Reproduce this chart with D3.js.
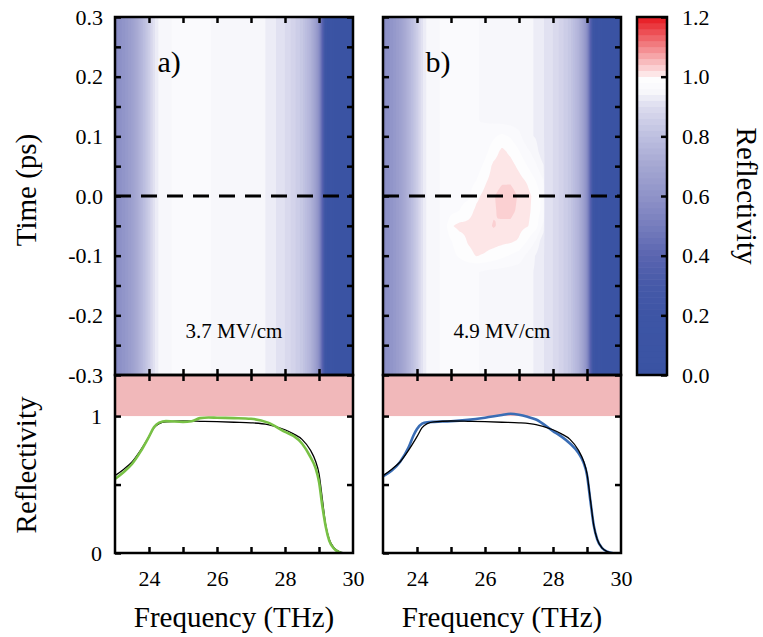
<!DOCTYPE html>
<meta charset="utf-8">
<head>
    <title>Reflectivity maps</title>
    <script src="https://cdn.jsdelivr.net/npm/d3@7"></script>
</head>

<style>
    body { margin: 0; background: #fff; }
    .tick line { stroke: #000; stroke-width: 2.5px; }
    .domain { display: none; }
    .frame { fill: none; stroke: #000; stroke-width: 2.5px; }
</style>

<svg width="763" height="637"></svg>

<script>
    // reference spectrum (black line, also the unpumped map)
    var refFreq = [23.0, 23.25, 23.5, 23.75, 24.0, 24.15, 24.3, 24.5, 25.0, 25.5, 26.0, 26.5, 27.0, 27.5,
        28.0, 28.25, 28.5, 28.75, 28.9, 29.0, 29.1, 29.2, 29.3, 29.45, 29.6, 29.75];
    var refR = [0.565, 0.61, 0.665, 0.75, 0.85, 0.915, 0.945, 0.958, 0.964, 0.962, 0.959, 0.955, 0.951, 0.938,
        0.90, 0.87, 0.83, 0.75, 0.67, 0.58, 0.39, 0.20, 0.10, 0.035, 0.01, 0.0];

    // 3.7 MV/cm spectrum (green)
    var greenFreq = [23.0, 23.25, 23.5, 23.75, 24.0, 24.15, 24.3, 24.5, 25.0, 25.25, 25.5, 25.75, 26.0, 26.5,
        27.0, 27.5, 28.0, 28.25, 28.5, 28.75, 28.9, 29.0, 29.1, 29.2, 29.3, 29.45, 29.65];
    var greenR = [0.54, 0.59, 0.65, 0.74, 0.85, 0.92, 0.952, 0.963, 0.958, 0.962, 0.985, 0.99, 0.988, 0.985,
        0.98, 0.952, 0.885, 0.855, 0.80, 0.70, 0.62, 0.52, 0.34, 0.19, 0.09, 0.03, 0.0];

    // 4.9 MV/cm spectrum (blue)
    var blueFreq = [23.0, 23.25, 23.5, 23.75, 23.9, 24.0, 24.15, 24.3, 24.5, 25.0, 25.5, 26.0, 26.5, 26.75,
        27.0, 27.25, 27.5, 28.0, 28.25, 28.5, 28.75, 28.9, 29.0, 29.1, 29.2, 29.3, 29.45, 29.6, 29.75];
    var blueR = [0.56, 0.60, 0.665, 0.77, 0.86, 0.905, 0.945, 0.955, 0.958, 0.962, 0.972, 0.988, 1.008, 1.017,
        1.01, 0.995, 0.975, 0.89, 0.85, 0.80, 0.73, 0.66, 0.57, 0.38, 0.20, 0.10, 0.035, 0.01, 0.0];

    // change of reflectivity in map b) around time zero
    var mapTimes = [-0.15, -0.125, -0.1, -0.075, -0.05, -0.025, 0, 0.025, 0.05, 0.075, 0.1, 0.125];
    var mapFreqs = [24.75, 25.0, 25.25, 25.5, 25.75, 26.0, 26.25, 26.5, 26.75, 27.0, 27.25, 27.5, 27.75];
    var mapDeltaB = [
        [0, 0, 0, 0, 0, 0, 0, 0, 0, 0, 0, 0, 0],
        [0, 0, 0, 0, 0, 0, 0, 0, 0, 0, 0, 0, 0],
        [0, .010, .020, .032, .041, .039, .035, .030, .025, .020, .010, 0, 0],
        [0, .015, .027, .040, .046, .049, .051, .051, .051, .047, .035, .020, 0],
        [0, .034, .043, .043, .046, .053, .065, .060, .062, .055, .057, .050, .030],
        [0, .010, .017, .030, .044, .049, .060, .071, .073, .064, .061, .052, .051],
        [0, .005, .010, .013, .035, .047, .061, .074, .077, .066, .062, .054, .051],
        [0, 0, .005, .010, .020, .038, .052, .062, .064, .057, .053, .042, .040],
        [0, 0, 0, .005, .010, .026, .048, .055, .055, .044, .035, .025, .020],
        [0, 0, 0, 0, .005, .015, .033, .050, .042, .030, .020, .010, 0],
        [0, 0, 0, 0, 0, .010, .020, .030, .025, .015, 0, 0, 0],
        [0, 0, 0, 0, 0, 0, 0, 0, 0, 0, 0, 0, 0]
    ];

    var timeTicks = [-0.3, -0.2, -0.1, 0.0, 0.1, 0.2, 0.3];
    var timeMinor = [-0.25, -0.15, -0.05, 0.05, 0.15, 0.25];
    var freqTicks = [24, 25, 26, 27, 28, 29];
    var freqLabels = [24, 26, 28, 30];
    var cbTicks = [0.0, 0.2, 0.4, 0.6, 0.8, 1.0, 1.2];

    // colour map
    var blueStops = [0, 0.2, 0.3, 0.4, 0.5, 0.6, 0.7, 0.8, 0.9, 0.95, 1.0];
    var blueCols = ["#3a53a3", "#3d55a5", "#4659a8", "#5a65b0", "#767dbd", "#8f93c8", "#a4a7d2",
        "#bdbfe0", "#dcdcee", "#f7f7fb", "#ffffff"];
    var cmapBlue = d3.scaleLinear().domain(blueStops).range(blueCols);
    var cmapRed = d3.scaleLinear().domain([1.02, 1.2]).range(["#fde6e7", "#e8232a"]).clamp(true);
    function bandColor(v) { return v < 0.999 ? cmapBlue(v + 0.01) : cmapRed(v + 0.02); }
    var levels = d3.range(0, 60).map(function (k) { return +(k * 0.02).toFixed(2); });

    var FONT = 'Liberation Serif';
    var svg = d3.select('svg').attr('font-family', FONT);
    var W = 238, yTop = 17, yMid = 375, yBot = 553;
    var yTime = d3.scaleLinear().domain([-0.3, 0.3]).range([yMid, yTop]);
    var yR = d3.scaleLinear().domain([0, 1.3]).range([yBot, yMid]);
    var nx = 238, ny = 179;

    function interp1(xs, ys, x) {
        if (x <= xs[0]) return ys[0];
        if (x >= xs[xs.length - 1]) return ys[ys.length - 1];
        var i = d3.bisectRight(xs, x) - 1;
        var u = (x - xs[i]) / (xs[i + 1] - xs[i]);
        return ys[i] + u * (ys[i + 1] - ys[i]);
    }
    function interp2(t, f) {
        if (t <= mapTimes[0] || t >= mapTimes[mapTimes.length - 1]) return 0;
        if (f <= mapFreqs[0] || f >= mapFreqs[mapFreqs.length - 1]) return 0;
        var i = d3.bisectRight(mapTimes, t) - 1, j = d3.bisectRight(mapFreqs, f) - 1;
        var u = (t - mapTimes[i]) / (mapTimes[i + 1] - mapTimes[i]);
        var v = (f - mapFreqs[j]) / (mapFreqs[j + 1] - mapFreqs[j]);
        var M = mapDeltaB;
        return (1 - u) * (1 - v) * M[i][j] + (1 - u) * v * M[i][j + 1] + u * (1 - v) * M[i + 1][j] + u * v * M[i + 1][j + 1];
    }
    function heatGrid(withDelta) {
        var vals = new Array(nx * ny);
        for (var r = 0; r < ny; r++) {
            var t = 0.3 - (r + 0.5) * 0.6 / ny;
            for (var c = 0; c < nx; c++) {
                var f = 23 + (c + 0.5) * 7 / nx;
                vals[r * nx + c] = interp1(refFreq, refR, f) + (withDelta ? interp2(t, f) : 0);
            }
        }
        return vals;
    }

    // axis group with inward ticks and serif labels
    function axisG(tr, axis) {
        return svg.append('g').attr('transform', tr).call(axis)
            .attr('font-family', FONT).attr('font-size', 22);
    }

    function panel(x0, id, withDelta, showY, letter, field, curves) {
        var x = d3.scaleLinear().domain([23, 30]).range([x0, x0 + W]);
        var g = svg.append('g');

        g.append('clipPath').attr('id', 'top' + id).append('rect')
            .attr('x', x0).attr('y', yTop).attr('width', W).attr('height', yMid - yTop);
        g.append('clipPath').attr('id', 'bot' + id).append('rect')
            .attr('x', x0).attr('y', yMid).attr('width', W).attr('height', yBot - yMid);

        // time-frequency map as filled contours
        var proj = d3.geoTransform({
            point: function (gx, gy) { this.stream.point(x(23 + gx * 7 / nx), yTime(0.3 - gy * 0.6 / ny)); }
        });
        var contours = d3.contours().size([nx, ny]).thresholds(levels)(heatGrid(withDelta));
        var gm = g.append('g').attr('clip-path', 'url(#top' + id + ')');
        gm.append('rect').attr('x', x0).attr('y', yTop).attr('width', W).attr('height', yMid - yTop)
            .attr('fill', bandColor(0));
        gm.selectAll('path').data(contours).enter().append('path')
            .attr('d', d3.geoPath(proj))
            .attr('fill', function (d) { return bandColor(d.value); });

        g.append('line').attr('x1', x0).attr('x2', x0 + W).attr('y1', yTime(0)).attr('y2', yTime(0))
            .attr('stroke', '#000').attr('stroke-width', 3.2).attr('stroke-dasharray', '16,10');

        // spectra
        var gb = g.append('g').attr('clip-path', 'url(#bot' + id + ')');
        gb.append('rect').attr('x', x0).attr('width', W).attr('y', yR(1.3)).attr('height', yR(1) - yR(1.3))
            .attr('fill', '#f1b8ba');
        var line = d3.line().x(function (d) { return x(d[0]); }).y(function (d) { return yR(d[1]); })
            .curve(d3.curveMonotoneX);
        curves.forEach(function (c) {
            gb.append('path').attr('d', line(d3.zip(c.f, c.r))).attr('fill', 'none')
                .attr('stroke', c.color).attr('stroke-width', c.width);
        });

        // ticks
        var fmt1 = function (d) { return d.toFixed(1); };
        axisG('translate(' + x0 + ',0)', d3.axisLeft(yTime).tickValues(timeTicks).tickSize(-6).tickSizeOuter(0)
            .tickPadding(12).tickFormat(showY ? fmt1 : ''));
        axisG('translate(' + x0 + ',0)', d3.axisLeft(yTime).tickValues(timeMinor).tickSize(-6).tickSizeOuter(0).tickFormat(''));
        axisG('translate(' + (x0 + W) + ',0)', d3.axisRight(yTime).tickValues(timeTicks.concat(timeMinor))
            .tickSize(-6).tickSizeOuter(0).tickFormat(''));
        axisG('translate(0,' + yTop + ')', d3.axisTop(x).tickValues(freqTicks).tickSize(-6).tickSizeOuter(0).tickFormat(''));
        axisG('translate(0,' + yMid + ')', d3.axisBottom(x).tickValues(freqTicks).tickSize(-6).tickSizeOuter(0).tickFormat(''));
        axisG('translate(0,' + yMid + ')', d3.axisTop(x).tickValues(freqTicks).tickSize(-6).tickSizeOuter(0).tickFormat(''));
        axisG('translate(0,' + yBot + ')', d3.axisBottom(x).tickValues(freqTicks).tickSize(-6).tickSizeOuter(0).tickFormat(''));
        axisG('translate(0,' + yBot + ')', d3.axisBottom(x).tickValues(freqLabels).tickSize(0).tickSizeOuter(0)
            .tickPadding(17).tickFormat(function (d) { return String(d); }));
        axisG('translate(' + x0 + ',0)', d3.axisLeft(yR).tickValues([0, 0.5, 1]).tickSize(-6).tickSizeOuter(0)
            .tickPadding(13).tickFormat(function (d) { return showY && d !== 0.5 ? String(d) : ''; }));
        axisG('translate(' + (x0 + W) + ',0)', d3.axisRight(yR).tickValues([0.5, 1]).tickSize(-6).tickSizeOuter(0).tickFormat(''));

        // frames
        svg.append('rect').attr('class', 'frame').attr('x', x0).attr('y', yTop).attr('width', W).attr('height', yMid - yTop);
        svg.append('rect').attr('class', 'frame').attr('x', x0).attr('y', yMid).attr('width', W).attr('height', yBot - yMid);

        // labels
        svg.append('text').attr('x', x(24.25)).attr('y', 72).attr('font-size', 30).text(letter);
        svg.append('text').attr('x', x(26.5)).attr('y', 338).attr('text-anchor', 'middle')
            .attr('font-size', 21).text(field);
        svg.append('text').attr('x', x0 + W / 2).attr('y', 627).attr('text-anchor', 'middle')
            .attr('font-size', 29).text('Frequency (THz)');
    }

    panel(115, 'a', false, true, 'a)', '3.7 MV/cm', [
        {f: refFreq, r: refR, color: '#000', width: 1.3},
        {f: greenFreq, r: greenR, color: '#78c145', width: 2.6}
    ]);
    panel(383, 'b', true, false, 'b)', '4.9 MV/cm', [
        {f: blueFreq, r: blueR, color: '#3a6db5', width: 2.6},
        {f: refFreq, r: refR, color: '#000', width: 1.3}
    ]);

    // colour bar
    var cb = d3.scaleLinear().domain([0, 1.2]).range([yMid, yTop]);
    svg.append('g').selectAll('rect').data(levels).enter().append('rect')
        .attr('x', 637).attr('width', 30)
        .attr('y', function (d) { return cb(d + 0.02) - 0.3; })
        .attr('height', function (d) { return cb(d) - cb(d + 0.02) + 0.6; })
        .attr('fill', function (d) { return bandColor(d); });
    axisG('translate(667,0)', d3.axisRight(cb).tickValues(cbTicks).tickSize(-6).tickSizeOuter(0).tickPadding(15)
        .tickFormat(function (d) { return d.toFixed(1); }));
    svg.append('rect').attr('class', 'frame').attr('x', 637).attr('y', yTop).attr('width', 30).attr('height', yMid - yTop);

    // axis titles
    svg.append('text').attr('transform', 'translate(36,190) rotate(-90)').attr('text-anchor', 'middle')
        .attr('font-size', 29).text('Time (ps)');
    svg.append('text').attr('transform', 'translate(36,465) rotate(-90)').attr('text-anchor', 'middle')
        .attr('font-size', 29).text('Reflectivity');
    svg.append('text').attr('transform', 'translate(737,196) rotate(90)').attr('text-anchor', 'middle')
        .attr('font-size', 29).text('Reflectivity');
</script>
